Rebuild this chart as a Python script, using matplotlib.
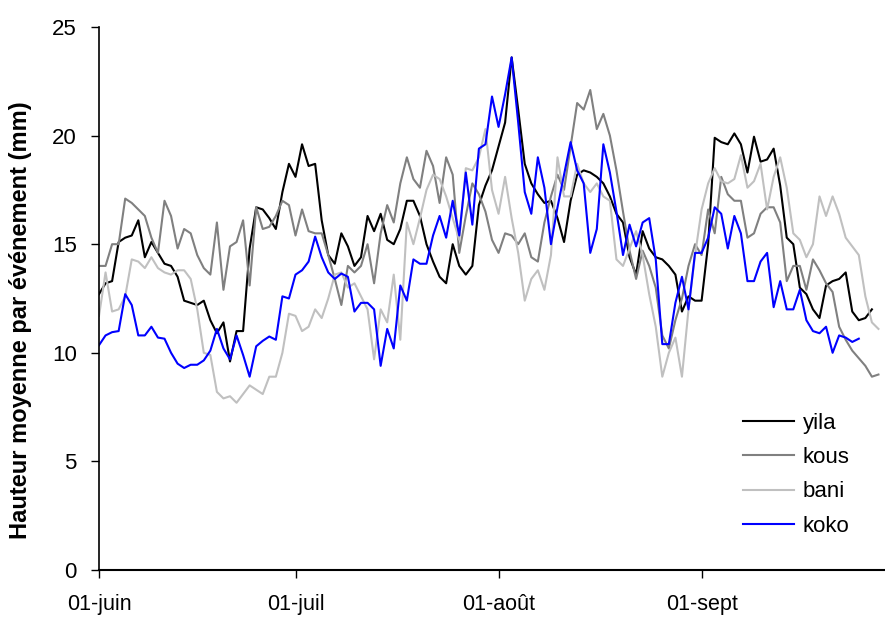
import numpy as np
import matplotlib
matplotlib.use("Agg")
import matplotlib.pyplot as plt

plt.rcParams["font.family"] = ["Liberation Sans", "DejaVu Sans"]

# daily mean rain depth per event (mm), starting 1 June
yila = [
    12.7, 13.2, 13.3, 15.1, 15.3, 15.4, 16.1, 14.4, 15.1, 14.6,
    14.1, 14.0, 13.5, 12.4, 12.3, 12.2, 12.4, 11.5, 10.9, 11.4,
    9.6, 11.0, 11.0, 14.8, 16.7, 16.6, 16.2, 15.7, 17.4, 18.7,
    18.1, 19.6, 18.6, 18.7, 16.1, 14.5, 14.1, 15.5, 14.9, 14.0,
    14.4, 16.3, 15.6, 16.4, 15.2, 15.0, 15.7, 17.0, 17.0, 16.3,
    15.0, 14.2, 13.5, 13.2, 15.0, 14.0, 13.6, 14.0, 16.8, 17.7,
    18.4, 19.5, 20.6, 23.6, 21.2, 18.7, 17.8, 17.3, 16.9, 17.0,
    16.2, 15.1, 17.0, 18.2, 18.4, 18.3, 18.1, 17.8, 17.2, 16.4,
    16.0, 14.4, 13.6, 15.6, 14.8, 14.4, 14.3, 14.0, 13.6, 11.9,
    12.6, 12.4, 12.4, 15.0, 19.9, 19.7, 19.6, 20.1, 19.6, 18.3,
    19.95, 18.8, 18.9, 19.4, 17.7, 15.3, 15.0, 13.0, 12.7, 12.0,
    11.6, 13.1, 13.3, 13.4, 13.7, 11.9, 11.5, 11.6, 12.0,
]
kous = [
    14.0, 14.0, 15.0, 15.0, 17.1, 16.9, 16.6, 16.3, 15.3, 14.6,
    17.0, 16.3, 14.8, 15.7, 15.5, 14.5, 13.9, 13.6, 16.0, 12.9,
    14.9, 15.1, 16.1, 13.1, 16.7, 15.7, 15.8, 16.3, 17.0, 16.8,
    15.4, 16.6, 15.6, 15.5, 15.5, 14.5, 13.4, 12.2, 14.0, 13.7,
    14.0, 15.0, 13.2, 15.5, 16.8, 16.0, 17.8, 19.0, 18.0, 17.6,
    19.3, 18.6, 16.9, 19.0, 18.2, 14.6, 16.3, 17.8, 17.3, 16.5,
    15.2, 14.6, 15.5, 15.4, 15.0, 15.5, 14.4, 14.2, 16.0, 17.2,
    18.2, 17.5, 19.5, 21.5, 21.2, 22.1, 20.3, 21.0, 20.0, 18.4,
    16.5, 14.7, 13.4, 14.7, 14.0, 13.0, 10.8, 10.2, 11.5, 12.5,
    14.0, 15.0, 14.5, 16.6, 15.5, 18.1, 17.3, 17.0, 17.0, 15.3,
    15.5, 16.4, 16.7, 16.7, 16.0, 13.3, 14.0, 14.0, 12.9, 14.3,
    13.8, 13.2, 12.8, 11.2, 10.6, 10.1, 9.75, 9.4, 8.9, 9.0,
]
bani = [
    11.7, 13.7, 11.9, 12.0, 12.6, 14.3, 14.2, 13.9, 14.4, 13.9,
    13.7, 13.6, 13.8, 13.8, 13.4, 12.0, 10.0, 9.9, 8.2, 7.9,
    8.0, 7.7, 8.1, 8.5, 8.3, 8.1, 8.9, 8.9, 10.0, 11.8,
    11.7, 11.0, 11.2, 12.0, 11.6, 12.5, 13.6, 13.7, 13.0, 13.2,
    12.6, 12.0, 9.7, 12.0, 11.4, 13.6, 10.6, 16.0, 15.0, 16.2,
    17.5, 18.2, 18.0, 17.2, 16.2, 15.2, 18.5, 18.4, 19.0, 20.3,
    17.5, 16.4, 18.1, 16.2, 14.6, 12.4, 13.4, 13.8, 12.9, 14.5,
    19.0, 17.2, 17.2, 18.7, 17.8, 17.4, 17.8, 17.2, 17.0, 14.3,
    14.0, 14.8, 15.6, 14.5, 12.7, 11.2, 8.9, 10.0, 10.7, 8.9,
    12.0, 14.5, 16.6, 17.8, 18.5, 17.9, 17.8, 18.0, 19.1, 17.6,
    17.9, 18.7, 16.6, 18.1, 19.0, 17.6, 15.5, 15.2, 14.4, 15.0,
    17.2, 16.3, 17.2, 16.4, 15.3, 14.9, 14.5, 12.6, 11.4, 11.1,
]
koko = [
    10.35, 10.8, 10.95, 11.0, 12.7, 12.2, 10.8, 10.8, 11.2, 10.7,
    10.65, 10.0, 9.5, 9.3, 9.45, 9.45, 9.65, 10.1, 11.1, 10.2,
    9.7, 10.8, 9.9, 8.9, 10.3, 10.55, 10.75, 10.6, 12.6, 12.5,
    13.6, 13.8, 14.2, 15.35, 14.4, 13.7, 13.4, 13.65, 13.5, 11.9,
    12.3, 12.3, 12.0, 9.4, 11.1, 10.2, 13.1, 12.4, 14.3, 14.1,
    14.1, 15.4, 16.3, 15.3, 17.0, 15.4, 18.3, 15.9, 19.4, 19.6,
    21.8, 20.4, 21.9, 23.6, 20.6, 17.4, 16.4, 19.0, 17.6, 15.0,
    16.7, 18.2, 19.7, 18.4, 17.8, 14.6, 15.7, 19.6, 18.3, 16.5,
    14.5, 15.9, 14.9, 16.0, 16.2, 14.3, 10.4, 10.4, 12.3, 13.5,
    12.0, 14.6, 14.6, 15.3, 16.7, 16.4, 14.8, 16.3, 15.5, 13.3,
    13.3, 14.2, 14.6, 12.1, 13.3, 12.0, 12.0, 12.9, 11.5, 11.0,
    10.9, 11.2, 10.0, 10.8, 10.7, 10.5, 10.65,
]

names = ["yila", "kous", "bani", "koko"]
colors = ["#000000", "#808080", "#c0c0c0", "#0000ff"]
month_ticks = ["2000-06-01", "2000-07-01", "2000-08-01", "2000-09-01"]
month_labels = ["01-juin", "01-juil", "01-août", "01-sept"]

start = np.datetime64("2000-06-01")

fig = plt.figure(figsize=(8.85, 6.19), dpi=100)
ax = fig.add_axes([99 / 885, 49 / 619, 786 / 885, 543 / 619])

for name, vals, col in zip(names, [yila, kous, bani, koko], colors):
    x = start + np.arange(len(vals))
    ax.plot(x, vals, color=col, lw=1.5, label=name)

ax.set_xlim(start, start + np.timedelta64(120, "D"))
ax.set_ylim(0, 25)
ax.set_yticks(range(0, 26, 5))
ax.set_xticks(np.array(month_ticks, dtype="datetime64[D]"))
ax.set_xticklabels(month_labels)

for side in ["top", "right"]:
    ax.spines[side].set_visible(False)
ax.spines["left"].set_linewidth(1.2)
ax.spines["bottom"].set_linewidth(1.5)
ax.tick_params(direction="out", length=6, width=1, labelsize=16)
ax.tick_params(axis="x", pad=11, labelsize=15.5)
ax.tick_params(axis="y", pad=10)

ax.set_ylabel("Hauteur moyenne par événement (mm)", fontsize=17, fontweight="bold")
ax.yaxis.set_label_coords(-0.085, 0.46)

ax.legend(loc="upper left", bbox_to_anchor=(0.805, 0.31), frameon=False,
          fontsize=16, handlelength=2.3, handletextpad=0.4, labelspacing=0.6,
          borderpad=0)

fig.savefig("out.png", dpi=100)
